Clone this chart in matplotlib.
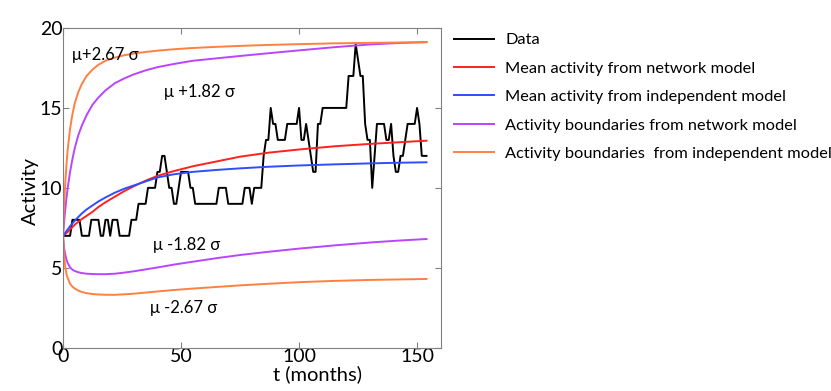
import numpy as np
import matplotlib
matplotlib.use("Agg")
from matplotlib import pyplot as plt

plt.rcParams['font.family'] = ['Lato', 'DejaVu Sans']

# observed monthly activity
activity = [7, 7, 7, 7, 8, 8, 8, 8, 7, 7,
            7, 7, 8, 8, 8, 8, 7, 7, 8, 8,
            7, 8, 8, 8, 7, 7, 7, 7, 7, 8,
            8, 8, 9, 9, 9, 9, 10, 10, 10, 10,
            11, 11, 12, 12, 11, 10, 10, 9, 9, 10,
            11, 11, 11, 11, 10, 10, 9, 9, 9, 9,
            9, 9, 9, 9, 9, 9, 10, 10, 10, 10,
            9, 9, 9, 9, 9, 9, 9, 10, 10, 10,
            9, 10, 10, 10, 10, 12, 13, 13, 15, 14,
            14, 13, 13, 13, 13, 14, 14, 14, 14, 14,
            15, 13, 13, 14, 13, 12, 11, 11, 14, 14,
            15, 15, 15, 15, 15, 15, 15, 15, 15, 15,
            15, 17, 17, 17, 19, 18, 17, 17, 14, 13,
            13, 10, 12, 14, 14, 14, 14, 13, 13, 14,
            12, 11, 11, 12, 12, 13, 14, 14, 14, 14,
            15, 14, 12, 12, 12]
months = np.arange(len(activity))

# model curves, read at these months
t_model = [0, 0.5, 1, 1.5, 2, 3, 4, 5, 6.5, 8, 10, 12.5, 15, 18, 22, 26, 30, 35, 40,
           47, 55, 65, 75, 87, 100, 115, 130, 142, 154]
mean_net = [7.0, 7.06, 7.12, 7.18, 7.24, 7.4, 7.55, 7.7, 7.88, 8.05, 8.25, 8.5, 8.8,
            9.1, 9.45, 9.8, 10.1, 10.45, 10.75, 11.05, 11.35, 11.65, 11.95, 12.2,
            12.4, 12.6, 12.75, 12.85, 12.95]
mean_ind = [7.0, 7.1, 7.2, 7.3, 7.4, 7.6, 7.78, 7.95, 8.18, 8.4, 8.65, 8.9, 9.15, 9.4,
            9.7, 9.95, 10.15, 10.4, 10.65, 10.85, 11.0, 11.12, 11.22, 11.32, 11.4,
            11.47, 11.53, 11.57, 11.6]
upper_net = [7.0, 7.9, 8.7, 9.4, 10.0, 11.0, 11.8, 12.5, 13.3, 13.9, 14.55, 15.2, 15.65,
             16.1, 16.55, 16.85, 17.1, 17.35, 17.55, 17.75, 17.95, 18.1, 18.25, 18.42,
             18.6, 18.8, 18.97, 19.06, 19.12]
upper_ind = [7.0, 9.0, 10.4, 11.5, 12.4, 13.7, 14.6, 15.3, 16.0, 16.5, 17.0, 17.4, 17.7,
             17.95, 18.15, 18.3, 18.4, 18.5, 18.58, 18.67, 18.75, 18.82, 18.88, 18.94,
             18.99, 19.04, 19.07, 19.09, 19.11]
lower_net = [7.0, 6.2, 5.8, 5.5, 5.3, 5.02, 4.88, 4.8, 4.72, 4.67, 4.63, 4.61, 4.6,
             4.6, 4.63, 4.7, 4.78, 4.9, 5.02, 5.2, 5.38, 5.6, 5.8, 6.0, 6.2, 6.4, 6.58,
             6.7, 6.8]
lower_ind = [7.0, 5.7, 5.0, 4.6, 4.35, 4.0, 3.82, 3.7, 3.57, 3.49, 3.41, 3.36, 3.33,
             3.31, 3.31, 3.34, 3.38, 3.45, 3.52, 3.61, 3.7, 3.8, 3.9, 4.0, 4.1, 4.18,
             4.24, 4.27, 4.3]

labels = ['Data', 'Mean activity from network model', 'Mean activity from independent model',
          'Activity boundaries from network model', 'Activity boundaries  from independent model']
sigma_labels = [u'\u03bc+2.67 \u03c3', u'\u03bc +1.82 \u03c3', u'\u03bc -1.82 \u03c3', u'\u03bc -2.67 \u03c3']
sigma_pos = [(4, 18.3), (43, 16.0), (38, 6.4), (37, 2.5)]

red = '#ff2020'
blue = '#2f4dff'
purple = '#bb44ff'
orange = '#ff8040'

fig = plt.figure(figsize=(8.31, 3.91), dpi=100)
ax = fig.add_axes([0.0758, 0.1107, 0.4545, 0.8177])

ax.plot(months, activity, color='black', lw=1.4, label=labels[0])
ax.plot(t_model, mean_net, color=red, lw=1.4, label=labels[1])
ax.plot(t_model, mean_ind, color=blue, lw=1.4, label=labels[2])
ax.plot(t_model, upper_net, color=purple, lw=1.4, label=labels[3])
ax.plot(t_model, upper_ind, color=orange, lw=1.4, label=labels[4])
ax.plot(t_model, lower_net, color=purple, lw=1.4)
ax.plot(t_model, lower_ind, color=orange, lw=1.4)

for s, (x, y) in zip(sigma_labels, sigma_pos):
    ax.text(x, y, s, fontsize=12, va='center', ha='left')

ax.set_xlim(0, 160)
ax.set_ylim(0, 20)
ax.set_xticks([0, 50, 100, 150])
ax.set_yticks([0, 5, 10, 15, 20])
ax.tick_params(direction='in', top=True, right=True, length=4, color='#808080',
               labelsize=14, pad=0.5)
for sp in ax.spines.values():
    sp.set_color('#808080')

ax.text(0.675, -0.082, 't (months)', transform=ax.transAxes, fontsize=14.5,
        ha='center', va='center')
ax.text(-0.085, 0.49, 'Activity', transform=ax.transAxes, fontsize=14.5,
        ha='center', va='center', rotation=90)

ax.legend(loc='upper left', bbox_to_anchor=(1.017, 1.005), frameon=False, fontsize=11.8,
          handlelength=2.45, handletextpad=0.7, labelspacing=0.85, borderaxespad=0)

fig.savefig('out.png', dpi=100)
